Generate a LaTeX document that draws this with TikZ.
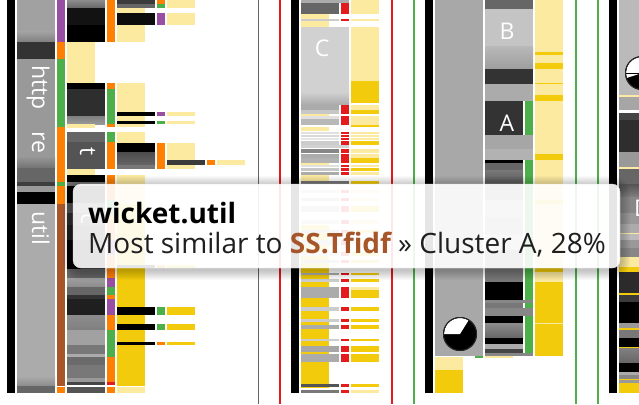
\documentclass[tikz,border=0pt]{standalone}
\usepackage{fontspec}
\setmainfont{Open Sans}
\definecolor{ly}{HTML}{FBEAA0}
\definecolor{by}{HTML}{F2CC0C}
\definecolor{gn}{HTML}{4DAF4A}
\definecolor{og}{HTML}{FF7F00}
\definecolor{pu}{HTML}{984EA3}
\definecolor{rd}{HTML}{E41A1C}
\definecolor{bn}{HTML}{A65628}
\newcommand\R[5]{\fill[#5] (#1,#2) rectangle (#3,#4);}
\newcommand\G[6]{\shade[top color=#5,bottom color=#6] (#1,#2) rectangle (#3,#4);}
% left small rows: y1 y2 gray colour
\newcommand\LR[4]{\R{117}{#1}{155}{#2}{#3}\R{157}{#1}{165}{#2}{#4}}
% C rows: y1 y2 gray yellow
\newcommand\CR[4]{\R{301}{#1}{339}{#2}{#3}\R{341}{#1}{349}{#2}{rd}\R{351}{#1}{379}{#2}{#4}}
\tikzset{
  lbl/.style={text=white, font=\fontsize{23}{23}\selectfont, inner sep=0pt},
  vlbl/.style={lbl, rotate=-90, anchor=base west},
  tiptext/.style={font=\fontsize{28}{30}\selectfont, inner sep=0pt, anchor=base west, text=black!88},
}
\begin{document}
\begin{tikzpicture}[x=1pt,y=-1pt]
\useasboundingbox (0,0) rectangle (639,404);
\fill[white] (0,0) rectangle (639,404);
% ===== group 1 =====
\R{7}{0}{15}{393}{black}
\R{17}{0}{55}{42}{black!37}
\G{17}{32}{55}{42}{black!37}{black!50}
\R{17}{42}{55}{59}{black!80}
\R{17}{59}{55}{168}{black!40}
\G{17}{156}{55}{168}{black!40}{black!55}
\R{17}{168}{55}{182}{black!60}
\R{17}{182}{55}{186}{black!76}
\R{17}{186}{55}{192}{black!40}
\R{17}{192}{55}{204}{black}
\R{17}{204}{55}{386}{black!33}
\G{17}{376}{55}{386}{black!33}{black!45}
\R{17}{386}{55}{393}{black!60}
\node[vlbl] (http) at (32,65) {http};
\node[vlbl] (re) at (32,131) {re};
\node[vlbl] (util) at (32,211) {util};
% colour bar 1
\R{57}{0}{65}{42}{pu}
\R{57}{42}{65}{59}{og}
\R{57}{59}{65}{127}{gn}
\R{57}{127}{65}{182}{og}
\R{57}{182}{65}{186}{gn}
\R{57}{186}{65}{204}{og}
\R{57}{204}{65}{386}{bn}
\R{57}{387}{65}{393}{og}
% column 2
\G{67}{0}{105}{8}{black!45}{black!60}
\R{67}{8}{105}{25}{black!93}
\R{67}{25}{105}{42}{black}
\R{67}{42}{95}{83}{ly}
\R{67}{83}{105}{89}{black}
\R{67}{89}{105}{116}{black!82}
\G{67}{116}{105}{124}{black!50}{black!40}
\R{67}{124}{95}{128}{ly}
\R{67}{132}{105}{142}{black!60}
\R{67}{142}{105}{169}{black!67}
\R{67}{169}{95}{175}{ly}
\R{67}{175}{105}{182}{black}
\R{67}{182}{105}{186}{black!55}
\R{67}{186}{105}{203}{black}
\R{67}{203}{105}{213}{black!67}
\R{67}{213}{105}{225}{black!80}
\R{67}{225}{105}{240}{black!87}
\R{67}{240}{105}{269}{black}
\node[vlbl] (t) at (80,147) {t};
\node[vlbl] (c) at (81,213) {c};
\R{67}{269}{105}{278}{black!60}
\G{67}{278}{105}{287}{black!38}{black!45}
\R{67}{287}{105}{295}{black!60}
\R{67}{295}{105}{299}{black!80}
\R{67}{299}{105}{315}{black!88}
\G{67}{315}{105}{330}{black!45}{black!50}
\R{67}{330}{105}{345}{black!37}
\R{67}{345}{105}{354}{black!53}
\R{67}{354}{105}{357}{black!33}
\R{67}{357}{105}{365}{black!58}
\R{67}{365}{105}{378}{black!53}
\R{67}{378}{105}{382}{black!40}
\R{67}{382}{105}{385}{black!73}
\R{67}{387}{105}{393}{black!67}
% colour bar 2
\R{107}{0}{115}{42}{og}
\R{107}{83}{115}{89}{og}
\R{107}{89}{115}{124}{gn}
\R{107}{124}{115}{127}{og}
\R{107}{132}{115}{142}{gn}
\R{107}{142}{115}{169}{og}
\R{107}{175}{115}{200}{og}
\R{107}{200}{115}{215}{gn}
\R{107}{215}{115}{240}{og}
\R{107}{240}{115}{255}{pu}
\R{107}{255}{115}{278}{og}
\R{107}{278}{115}{287}{pu}
\R{107}{287}{115}{295}{gn}
\R{107}{295}{115}{299}{og}
\R{107}{299}{115}{315}{pu}
\R{107}{315}{115}{330}{og}
\R{107}{330}{115}{357}{gn}
\R{107}{357}{115}{382}{og}
\R{107}{382}{115}{385}{rd}
\R{107}{387}{115}{393}{og}
% yellow column and rows
\R{117}{0}{145}{42}{ly}
\LR{0}{4}{black!77}{og}\R{167}{0}{195}{4}{ly}
\LR{4}{8}{black!60}{gn}\R{167}{4}{195}{8}{ly}
\LR{13}{25}{black!95}{pu}\R{167}{13}{195}{25}{ly}
\R{117}{83}{145}{127}{ly}
\LR{112}{116}{black}{pu}\R{167}{112}{195}{116}{ly}
\LR{121}{124}{black}{gn}\R{167}{121}{195}{124}{ly}
\R{117}{132}{145}{143}{ly}
\R{117}{143}{155}{152}{black}
\G{117}{152}{155}{165}{black!70}{black!60}
\R{117}{165}{155}{169}{black!53}
\R{157}{143}{165}{169}{og}
\R{167}{143}{195}{169}{ly}
\R{167}{160}{205}{165}{black!77}
\R{207}{160}{215}{165}{og}
\R{217}{160}{245}{165}{ly}
\R{117}{175}{145}{204}{ly}
\R{117}{204}{145}{386}{by}
\R{117}{387}{145}{393}{ly}
\LR{265}{268}{black}{og}\R{167}{265}{195}{268}{by}
\LR{307}{315}{black}{gn}\R{167}{307}{195}{315}{by}
\LR{324}{330}{black}{gn}\R{167}{324}{195}{330}{by}
\LR{342}{345}{black}{og}\R{167}{342}{195}{345}{by}
% vertical lines
\R{257.5}{0}{259}{404}{black!60}
\R{279}{0}{281}{404}{rd}
\R{391}{0}{393}{404}{rd}
\R{413}{0}{415}{404}{gn}
\R{575}{0}{577}{404}{gn}
\R{597}{0}{599}{404}{gn}
% ===== group C =====
\R{291}{0}{299}{393}{black}
\R{301}{0}{349}{3}{black!33}
\R{351}{0}{379}{14}{ly}
\CR{3}{14}{black!60}{ly}
\R{301}{14}{329}{19}{ly}
\CR{19}{21}{black!20}{ly}
\R{301}{21}{329}{27}{ly}
\R{301}{27}{349}{92}{black!18}
\G{301}{92}{349}{104}{black!18}{black!32}
\node[lbl] (C) at (322,48) {C};
\R{351}{27}{379}{81}{ly}
\R{351}{81}{379}{103}{by}
\CR{105}{110}{black!33}{ly}
\CR{110}{114}{black!22}{by}
\R{301}{114}{329}{116}{ly}
\CR{116}{119}{black!12}{ly}
\CR{119}{125}{black!28}{ly}
\R{351}{125}{379}{127}{by}
\R{301}{127}{329}{131}{ly}
\CR{132}{134}{black!12}{ly}
\CR{135}{137}{black!15}{ly}
\CR{138}{140}{black!10}{ly}
\CR{141}{145}{black!20}{by}
\R{301}{145}{349}{148}{black!18}
\CR{149}{153}{black!47}{ly}
\CR{154}{158}{black!33}{ly}
\CR{158}{163}{black!30}{by}
\R{301}{163}{329}{165}{ly}
\CR{165}{167}{black!12}{ly}
\CR{168}{171}{black!22}{by}
\CR{172}{175}{black!33}{ly}
\R{301}{175}{329}{181}{ly}
\R{301}{181}{349}{184}{black!53}
\R{351}{181}{379}{184}{by}
\CR{190}{193}{black!20}{ly}
\CR{198}{201}{black!30}{ly}
\CR{206}{212}{black!25}{by}
\CR{220}{224}{black!20}{ly}
\R{301}{225}{329}{388}{by}
\CR{230}{233}{black!30}{by}
\CR{240}{245}{black!25}{ly}
\CR{252}{256}{black!20}{by}
\CR{260}{263}{black!30}{by}
\CR{273}{275}{black!33}{by}
\CR{279}{282}{black!20}{by}
\CR{287}{298}{black!33}{by}
\R{351}{287}{379}{290}{ly}
\CR{307}{311}{black!20}{by}
\CR{319}{322}{black!20}{by}
\CR{325}{329}{black!33}{by}
\CR{339}{341}{black!20}{by}
\CR{346}{352}{black!35}{by}
\CR{354}{362}{black!33}{by}
\CR{384}{387}{black!67}{by}
\CR{390}{393}{black!53}{ly}
% ===== group B/A =====
\R{425}{0}{433}{393}{black}
\R{435}{0}{483}{356}{black!34}
\R{435}{357}{463}{370}{ly}
\R{435}{370}{463}{393}{by}
\R{475}{356}{483}{358}{gn}
\coordinate (p1) at (460,334);
\fill[black] (p1) circle (17pt);
\fill[white] (p1) -- ++(58:16pt) arc[start angle=58, end angle=180, radius=16pt] -- cycle;
\draw[black!85, line width=1pt] (p1) circle (16.5pt);
\R{485}{0}{533}{9}{black!60}
\R{485}{9}{533}{47}{black!23}
\G{485}{47}{533}{69}{black!28}{black!38}
\R{485}{69}{533}{84}{black!80}
\R{485}{84}{533}{101}{black!33}
\R{485}{101}{523}{135}{black!80}
\R{525}{101}{533}{135}{gn}
\node[lbl] (B) at (507,31) {B};
\node[lbl] (A) at (507,123) {A};
\R{485}{135}{533}{149}{black!35}
\R{485}{149}{533}{160}{black!30}
\R{485}{160}{523}{163}{black}
\R{485}{163}{523}{170}{black!60}
\G{485}{170}{523}{184}{black!53}{black!65}
\R{485}{184}{523}{200}{black!45}
\R{485}{200}{523}{217}{black!30}
\R{485}{217}{523}{235}{black!40}
\R{485}{235}{523}{250}{black!25}
\R{485}{250}{523}{268}{black!50}
\R{525}{160}{533}{353}{gn}
\R{485}{268}{523}{282}{black!53}
\R{485}{282}{523}{300}{black}
\R{485}{300}{533}{303}{black!47}
\R{485}{303}{523}{308}{black!53}
\R{485}{308}{533}{316}{black!47}
\R{485}{316}{523}{323}{black}
\G{485}{323}{523}{338}{black!45}{black!60}
\R{485}{338}{523}{344}{black}
\R{485}{344}{523}{349}{black!33}
\R{485}{349}{523}{353}{black!73}
\R{485}{353}{533}{356}{black!47}
\R{485}{356}{513}{358}{ly}
\R{535}{0}{563}{356}{ly}
\R{535}{52}{563}{55}{by}
\R{535}{63}{563}{69}{by}
\R{535}{82.5}{563}{83.5}{by}
\R{535}{95}{563}{101}{by}
\R{535}{154}{563}{160}{by}
\R{535}{200}{563}{204}{by}
\R{535}{268}{563}{272}{by}
\R{535}{282}{563}{323}{by}
\R{535}{324}{563}{356}{by}
% ===== right group =====
\R{609}{0}{617}{393}{black}
\R{619}{0}{639}{95}{black!27}
\coordinate (p2) at (642,73);
\fill[black] (p2) circle (17pt);
\fill[white] (p2) -- ++(100:16pt) arc[start angle=100, end angle=198, radius=16pt] -- cycle;
\draw[black, line width=1pt] (p2) -- ++(180:16pt);
\draw[black!85, line width=1pt] (p2) circle (16.5pt);
\R{619}{95}{639}{97}{ly}
\R{619}{97}{639}{110}{black!35}
\R{619}{113}{639}{120}{black!73}
\R{619}{120}{639}{152}{black!82}
\R{619}{152}{639}{167}{black!40}
\R{619}{167}{639}{169}{ly}
\R{619}{169}{639}{184}{black!60}
\G{619}{184}{639}{197}{black!67}{black!50}
\R{619}{197}{639}{213}{black!47}
\R{619}{213}{639}{224}{black!40}
\R{619}{224}{639}{233}{black!33}
\R{619}{233}{639}{234}{ly}
\R{619}{234}{639}{240}{black!27}
\R{619}{240}{639}{248}{black!40}
\R{619}{248}{639}{257}{black!47}
\R{619}{257}{639}{267}{ly}
\R{619}{267}{639}{272}{by}
\R{619}{272}{639}{293}{black!83}
\R{619}{293}{639}{295}{by}
\R{619}{295}{639}{302}{black!77}
\R{619}{302}{639}{323}{black}
\R{619}{323}{639}{328}{black!40}
\R{619}{328}{639}{330}{by}
\R{619}{330}{639}{338}{black!53}
\R{619}{338}{639}{347}{black}
\R{619}{347}{639}{348.5}{by}
\G{619}{348.5}{639}{363}{black!50}{black!60}
\R{619}{363}{639}{372}{black}
\R{619}{372}{639}{375}{black!33}
\R{619}{375}{639}{379}{black!47}
\R{619}{379}{639}{380}{by}
\R{619}{380}{639}{383}{black!40}
\R{619}{383}{639}{393}{by}
\node[lbl, anchor=west] (D) at (634,208) {D};
% ===== tooltip =====
\foreach \i in {1,...,10} {
  \fill[black, opacity=0.025, even odd rule]
    [rounded corners=8+\i] (73-\i,184-\i+2) rectangle (620+\i,268+\i+2)
    [rounded corners=8] (73,184) rectangle (620,268);
}
\fill[white, fill opacity=0.9, draw=black!10, rounded corners=8] (73,184) rectangle (620,268);
\node[tiptext, font=\fontsize{28}{30}\selectfont\bfseries, text=black] (title) at (88,223) {wicket.util};
\node[tiptext] (body) at (88,253) {Most similar to \textcolor{bn}{\bfseries SS.Tfidf} » Cluster A, 28\%};
\end{tikzpicture}
\end{document}
